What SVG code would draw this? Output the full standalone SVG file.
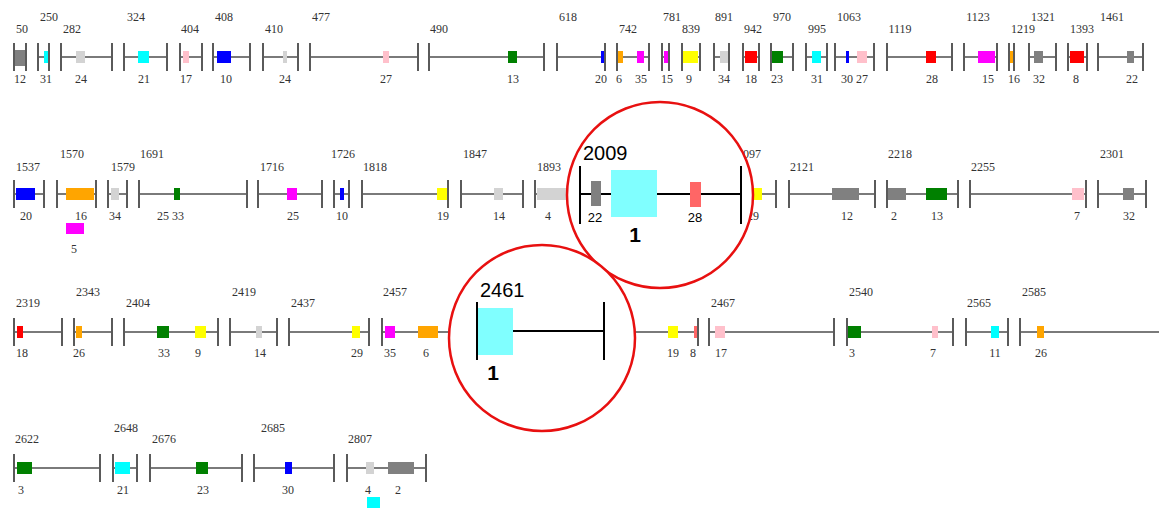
<svg xmlns="http://www.w3.org/2000/svg" width="1159" height="517" viewBox="0 0 1159 517">
<style>
  .ln{stroke:#7a7a7a;stroke-width:2}
  .tk{stroke:#5a5a5a;stroke-width:2}
  .t{font-family:"Liberation Serif",serif;font-size:12px;fill:#333;text-anchor:middle}
  .gy{fill:#808080}.lg{fill:#d3d3d3}.cy{fill:#00ffff}.pk{fill:#ffc0cb}.bl{fill:#0000ff}
  .gr{fill:#008000}.rd{fill:#ff0000}.or{fill:#ffa500}.mg{fill:#ff00ff}.ye{fill:#ffff00}
  .ring{fill:#fff;stroke:#e81010;stroke-width:2.5}
  .zl{stroke:#000;stroke-width:2}
  .za{font-family:"Liberation Sans",Arial,sans-serif;fill:#000}
</style>
<rect width="1159" height="517" fill="#fff"/>

<!-- row 1: axis y=57 -->
<g id="seg-50"><line class="ln" x1="14" y1="57" x2="26" y2="57"/><rect class="gy" x="14" y="50" width="12" height="16"/><line class="tk" x1="14" y1="43" x2="14" y2="71"/><line class="tk" x1="26" y1="43" x2="26" y2="71"/><text class="t" x="22" y="33">50</text><text class="t" x="20" y="83">12</text></g>
<g id="seg-250"><line class="ln" x1="38" y1="57" x2="49" y2="57"/><rect class="cy" x="44" y="51" width="4" height="12"/><line class="tk" x1="38" y1="43" x2="38" y2="71"/><line class="tk" x1="49" y1="43" x2="49" y2="71"/><text class="t" x="49" y="21">250</text><text class="t" x="46" y="83">31</text></g>
<g id="seg-282"><line class="ln" x1="61" y1="57" x2="112" y2="57"/><rect class="lg" x="76" y="51" width="9" height="12"/><line class="tk" x1="61" y1="43" x2="61" y2="71"/><line class="tk" x1="112" y1="43" x2="112" y2="71"/><text class="t" x="72" y="33">282</text><text class="t" x="81" y="83">24</text></g>
<g id="seg-324"><line class="ln" x1="124" y1="57" x2="167" y2="57"/><rect class="cy" x="138" y="51" width="11" height="12"/><line class="tk" x1="124" y1="43" x2="124" y2="71"/><line class="tk" x1="167" y1="43" x2="167" y2="71"/><text class="t" x="136" y="21">324</text><text class="t" x="144" y="83">21</text></g>
<g id="seg-404"><line class="ln" x1="180" y1="57" x2="202" y2="57"/><rect class="pk" x="183" y="51" width="6" height="12"/><line class="tk" x1="180" y1="43" x2="180" y2="71"/><line class="tk" x1="202" y1="43" x2="202" y2="71"/><text class="t" x="190" y="33">404</text><text class="t" x="186" y="83">17</text></g>
<g id="seg-408"><line class="ln" x1="213" y1="57" x2="250" y2="57"/><rect class="bl" x="217" y="51" width="14" height="12"/><line class="tk" x1="213" y1="43" x2="213" y2="71"/><line class="tk" x1="250" y1="43" x2="250" y2="71"/><text class="t" x="224" y="21">408</text><text class="t" x="226" y="83">10</text></g>
<g id="seg-410"><line class="ln" x1="263" y1="57" x2="298" y2="57"/><rect class="lg" x="283" y="51" width="4" height="12"/><line class="tk" x1="263" y1="43" x2="263" y2="71"/><line class="tk" x1="298" y1="43" x2="298" y2="71"/><text class="t" x="274" y="33">410</text><text class="t" x="285" y="83">24</text></g>
<g id="seg-477"><line class="ln" x1="310" y1="57" x2="418" y2="57"/><rect class="pk" x="383" y="51" width="6" height="12"/><line class="tk" x1="310" y1="43" x2="310" y2="71"/><line class="tk" x1="418" y1="43" x2="418" y2="71"/><text class="t" x="321" y="21">477</text><text class="t" x="386" y="83">27</text></g>
<g id="seg-490"><line class="ln" x1="429" y1="57" x2="544" y2="57"/><rect class="gr" x="508" y="51" width="9" height="12"/><line class="tk" x1="429" y1="43" x2="429" y2="71"/><line class="tk" x1="544" y1="43" x2="544" y2="71"/><text class="t" x="439" y="33">490</text><text class="t" x="513" y="83">13</text></g>
<g id="seg-618"><line class="ln" x1="557" y1="57" x2="605" y2="57"/><rect class="bl" x="601" y="51" width="3" height="12"/><line class="tk" x1="557" y1="43" x2="557" y2="71"/><line class="tk" x1="605" y1="43" x2="605" y2="71"/><text class="t" x="568" y="21">618</text><text class="t" x="601" y="83">20</text></g>
<g id="seg-742"><line class="ln" x1="617" y1="57" x2="649" y2="57"/><rect class="or" x="618" y="51" width="5" height="12"/><rect class="mg" x="637" y="51" width="7" height="12"/><line class="tk" x1="617" y1="43" x2="617" y2="71"/><line class="tk" x1="649" y1="43" x2="649" y2="71"/><text class="t" x="628" y="33">742</text><text class="t" x="619" y="83">6</text><text class="t" x="641" y="83">35</text></g>
<g id="seg-781"><line class="ln" x1="662" y1="57" x2="669" y2="57"/><rect class="mg" x="664" y="51" width="4" height="12"/><line class="tk" x1="662" y1="43" x2="662" y2="71"/><line class="tk" x1="669" y1="43" x2="669" y2="71"/><text class="t" x="672" y="21">781</text><text class="t" x="667" y="83">15</text></g>
<g id="seg-839"><line class="ln" x1="682" y1="57" x2="700" y2="57"/><rect class="ye" x="683" y="51" width="15" height="12"/><line class="tk" x1="682" y1="43" x2="682" y2="71"/><line class="tk" x1="700" y1="43" x2="700" y2="71"/><text class="t" x="691" y="33">839</text><text class="t" x="689" y="83">9</text></g>
<g id="seg-891"><line class="ln" x1="714" y1="57" x2="729" y2="57"/><rect class="lg" x="720" y="51" width="9" height="12"/><line class="tk" x1="714" y1="43" x2="714" y2="71"/><line class="tk" x1="729" y1="43" x2="729" y2="71"/><text class="t" x="724" y="21">891</text><text class="t" x="724" y="83">34</text></g>
<g id="seg-942"><line class="ln" x1="743" y1="57" x2="759" y2="57"/><rect class="rd" x="745" y="51" width="12" height="12"/><line class="tk" x1="743" y1="43" x2="743" y2="71"/><line class="tk" x1="759" y1="43" x2="759" y2="71"/><text class="t" x="753" y="33">942</text><text class="t" x="751" y="83">18</text></g>
<g id="seg-970"><line class="ln" x1="771" y1="57" x2="793" y2="57"/><rect class="gr" x="772" y="51" width="11" height="12"/><line class="tk" x1="771" y1="43" x2="771" y2="71"/><line class="tk" x1="793" y1="43" x2="793" y2="71"/><text class="t" x="782" y="21">970</text><text class="t" x="777" y="83">23</text></g>
<g id="seg-995"><line class="ln" x1="806" y1="57" x2="827" y2="57"/><rect class="cy" x="812" y="51" width="9" height="12"/><line class="tk" x1="806" y1="43" x2="806" y2="71"/><line class="tk" x1="827" y1="43" x2="827" y2="71"/><text class="t" x="817" y="33">995</text><text class="t" x="817" y="83">31</text></g>
<g id="seg-1063"><line class="ln" x1="835" y1="57" x2="874" y2="57"/><rect class="bl" x="846" y="51" width="3" height="12"/><rect class="pk" x="857" y="51" width="10" height="12"/><line class="tk" x1="835" y1="43" x2="835" y2="71"/><line class="tk" x1="874" y1="43" x2="874" y2="71"/><text class="t" x="849" y="21">1063</text><text class="t" x="847" y="83">30</text><text class="t" x="862" y="83">27</text></g>
<g id="seg-1119"><line class="ln" x1="887" y1="57" x2="952" y2="57"/><rect class="rd" x="926" y="51" width="10" height="12"/><line class="tk" x1="887" y1="43" x2="887" y2="71"/><line class="tk" x1="952" y1="43" x2="952" y2="71"/><text class="t" x="900" y="33">1119</text><text class="t" x="932" y="83">28</text></g>
<g id="seg-1123"><line class="ln" x1="964" y1="57" x2="997" y2="57"/><rect class="mg" x="978" y="51" width="17" height="12"/><line class="tk" x1="964" y1="43" x2="964" y2="71"/><line class="tk" x1="997" y1="43" x2="997" y2="71"/><text class="t" x="978" y="21">1123</text><text class="t" x="988" y="83">15</text></g>
<g id="seg-1219"><line class="ln" x1="1009" y1="57" x2="1014" y2="57"/><rect class="or" x="1010" y="51" width="5" height="12"/><line class="tk" x1="1009" y1="43" x2="1009" y2="71"/><line class="tk" x1="1014" y1="43" x2="1014" y2="71"/><text class="t" x="1023" y="33">1219</text><text class="t" x="1014" y="83">16</text></g>
<g id="seg-1321"><line class="ln" x1="1029" y1="57" x2="1056" y2="57"/><rect class="gy" x="1034" y="51" width="9" height="12"/><line class="tk" x1="1029" y1="43" x2="1029" y2="71"/><line class="tk" x1="1056" y1="43" x2="1056" y2="71"/><text class="t" x="1043" y="21">1321</text><text class="t" x="1039" y="83">32</text></g>
<g id="seg-1393"><line class="ln" x1="1068" y1="57" x2="1087" y2="57"/><rect class="rd" x="1070" y="51" width="14" height="12"/><line class="tk" x1="1068" y1="43" x2="1068" y2="71"/><line class="tk" x1="1087" y1="43" x2="1087" y2="71"/><text class="t" x="1082" y="33">1393</text><text class="t" x="1076" y="83">8</text></g>
<g id="seg-1461"><line class="ln" x1="1098" y1="57" x2="1143" y2="57"/><rect class="gy" x="1127" y="51" width="7" height="12"/><line class="tk" x1="1098" y1="43" x2="1098" y2="71"/><line class="tk" x1="1143" y1="43" x2="1143" y2="71"/><text class="t" x="1112" y="21">1461</text><text class="t" x="1132" y="83">22</text></g>

<!-- row 2: axis y=194 -->
<g id="seg-1537"><line class="ln" x1="14" y1="194" x2="44" y2="194"/><rect class="bl" x="16" y="188" width="19" height="12"/><line class="tk" x1="14" y1="180" x2="14" y2="208"/><line class="tk" x1="44" y1="180" x2="44" y2="208"/><text class="t" x="28" y="171">1537</text><text class="t" x="26" y="220">20</text></g>
<g id="seg-1570"><line class="ln" x1="57" y1="194" x2="96" y2="194"/><rect class="or" x="66" y="188" width="28" height="12"/><rect class="mg" x="66" y="223" width="18" height="11"/><line class="tk" x1="57" y1="180" x2="57" y2="208"/><line class="tk" x1="96" y1="180" x2="96" y2="208"/><text class="t" x="72" y="158">1570</text><text class="t" x="81" y="220">16</text><text class="t" x="74" y="253">5</text></g>
<g id="seg-1579"><line class="ln" x1="108" y1="194" x2="127" y2="194"/><rect class="lg" x="111" y="188" width="8" height="12"/><line class="tk" x1="108" y1="180" x2="108" y2="208"/><line class="tk" x1="127" y1="180" x2="127" y2="208"/><text class="t" x="123" y="171">1579</text><text class="t" x="115" y="220">34</text></g>
<g id="seg-1691"><line class="ln" x1="139" y1="194" x2="247" y2="194"/><rect class="gr" x="174" y="188" width="6" height="12"/><line class="tk" x1="139" y1="180" x2="139" y2="208"/><line class="tk" x1="247" y1="180" x2="247" y2="208"/><text class="t" x="152" y="158">1691</text><text class="t" x="163" y="220">25</text><text class="t" x="178" y="220">33</text></g>
<g id="seg-1716"><line class="ln" x1="258" y1="194" x2="322" y2="194"/><rect class="mg" x="287" y="188" width="10" height="12"/><line class="tk" x1="258" y1="180" x2="258" y2="208"/><line class="tk" x1="322" y1="180" x2="322" y2="208"/><text class="t" x="272" y="171">1716</text><text class="t" x="293" y="220">25</text></g>
<g id="seg-1726"><line class="ln" x1="334" y1="194" x2="349" y2="194"/><rect class="bl" x="340" y="188" width="4" height="12"/><line class="tk" x1="334" y1="180" x2="334" y2="208"/><line class="tk" x1="349" y1="180" x2="349" y2="208"/><text class="t" x="343" y="158">1726</text><text class="t" x="342" y="220">10</text></g>
<g id="seg-1818"><line class="ln" x1="362" y1="194" x2="448" y2="194"/><rect class="ye" x="437" y="188" width="11" height="12"/><line class="tk" x1="362" y1="180" x2="362" y2="208"/><line class="tk" x1="448" y1="180" x2="448" y2="208"/><text class="t" x="375" y="171">1818</text><text class="t" x="443" y="220">19</text></g>
<g id="seg-1847"><line class="ln" x1="461" y1="194" x2="523" y2="194"/><rect class="lg" x="494" y="188" width="9" height="12"/><line class="tk" x1="461" y1="180" x2="461" y2="208"/><line class="tk" x1="523" y1="180" x2="523" y2="208"/><text class="t" x="475" y="158">1847</text><text class="t" x="499" y="220">14</text></g>
<g id="seg-1893"><line class="ln" x1="535" y1="194" x2="620" y2="194"/><rect class="lg" x="537" y="188" width="40" height="12"/><line class="tk" x1="535" y1="180" x2="535" y2="208"/><text class="t" x="549" y="171">1893</text><text class="t" x="548" y="220">4</text></g>
<g id="seg-2097"><line class="ln" x1="700" y1="194" x2="776" y2="194"/><rect class="ye" x="745" y="188" width="17" height="12"/><line class="tk" x1="776" y1="180" x2="776" y2="208"/><text class="t" x="749" y="158">2097</text><text class="t" x="753" y="220">29</text></g>
<g id="seg-2121"><line class="ln" x1="789" y1="194" x2="875" y2="194"/><rect class="gy" x="832" y="188" width="27" height="12"/><line class="tk" x1="789" y1="180" x2="789" y2="208"/><line class="tk" x1="875" y1="180" x2="875" y2="208"/><text class="t" x="802" y="171">2121</text><text class="t" x="847" y="220">12</text></g>
<g id="seg-2218"><line class="ln" x1="887" y1="194" x2="958" y2="194"/><rect class="gy" x="888" y="188" width="18" height="12"/><rect class="gr" x="926" y="188" width="21" height="12"/><line class="tk" x1="887" y1="180" x2="887" y2="208"/><line class="tk" x1="958" y1="180" x2="958" y2="208"/><text class="t" x="900" y="158">2218</text><text class="t" x="894" y="220">2</text><text class="t" x="937" y="220">13</text></g>
<g id="seg-2255"><line class="ln" x1="970" y1="194" x2="1086" y2="194"/><rect class="pk" x="1072" y="188" width="12" height="12"/><line class="tk" x1="970" y1="180" x2="970" y2="208"/><line class="tk" x1="1086" y1="180" x2="1086" y2="208"/><text class="t" x="983" y="171">2255</text><text class="t" x="1077" y="220">7</text></g>
<g id="seg-2301"><line class="ln" x1="1098" y1="194" x2="1146" y2="194"/><rect class="gy" x="1123" y="188" width="11" height="12"/><line class="tk" x1="1098" y1="180" x2="1098" y2="208"/><line class="tk" x1="1146" y1="180" x2="1146" y2="208"/><text class="t" x="1112" y="158">2301</text><text class="t" x="1129" y="220">32</text></g>

<!-- magnified segment 2009 -->
<g id="zoom-2009">
  <circle class="ring" cx="660" cy="195" r="93"/>
  <line class="zl" x1="580" y1="194" x2="741" y2="194"/>
  <line class="zl" x1="580" y1="166" x2="580" y2="224"/>
  <line class="zl" x1="741" y1="166" x2="741" y2="224"/>
  <rect x="591" y="181" width="10" height="25" fill="#808080"/>
  <rect x="611" y="170" width="46" height="47" fill="#80ffff"/>
  <rect x="690" y="182" width="11" height="25" fill="#ff6666"/>
  <text class="za" x="583" y="160" font-size="20">2009</text>
  <text class="za" x="595" y="222" font-size="13" text-anchor="middle">22</text>
  <text class="za" x="695" y="222" font-size="13" text-anchor="middle">28</text>
  <text class="za" x="635" y="242" font-size="21" font-weight="bold" text-anchor="middle">1</text>
</g>

<!-- row 3: axis y=332 -->
<g id="seg-2319"><line class="ln" x1="14" y1="332" x2="62" y2="332"/><rect class="rd" x="17" y="326" width="6" height="12"/><line class="tk" x1="14" y1="318" x2="14" y2="346"/><line class="tk" x1="62" y1="318" x2="62" y2="346"/><text class="t" x="28" y="307">2319</text><text class="t" x="22" y="357">18</text></g>
<g id="seg-2343"><line class="ln" x1="74" y1="332" x2="112" y2="332"/><rect class="or" x="76" y="326" width="6" height="12"/><line class="tk" x1="74" y1="318" x2="74" y2="346"/><line class="tk" x1="112" y1="318" x2="112" y2="346"/><text class="t" x="88" y="296">2343</text><text class="t" x="79" y="357">26</text></g>
<g id="seg-2404"><line class="ln" x1="124" y1="332" x2="218" y2="332"/><rect class="gr" x="157" y="326" width="12" height="12"/><rect class="ye" x="195" y="326" width="11" height="12"/><line class="tk" x1="124" y1="318" x2="124" y2="346"/><line class="tk" x1="218" y1="318" x2="218" y2="346"/><text class="t" x="138" y="307">2404</text><text class="t" x="164" y="357">33</text><text class="t" x="198" y="357">9</text></g>
<g id="seg-2419"><line class="ln" x1="230" y1="332" x2="277" y2="332"/><rect class="lg" x="256" y="326" width="6" height="12"/><line class="tk" x1="230" y1="318" x2="230" y2="346"/><line class="tk" x1="277" y1="318" x2="277" y2="346"/><text class="t" x="244" y="296">2419</text><text class="t" x="260" y="357">14</text></g>
<g id="seg-2437"><line class="ln" x1="289" y1="332" x2="369" y2="332"/><rect class="ye" x="352" y="326" width="8" height="12"/><line class="tk" x1="289" y1="318" x2="289" y2="346"/><line class="tk" x1="369" y1="318" x2="369" y2="346"/><text class="t" x="303" y="307">2437</text><text class="t" x="357" y="357">29</text></g>
<g id="seg-2457"><line class="ln" x1="382" y1="332" x2="698" y2="332"/><rect class="mg" x="385" y="326" width="10" height="12"/><rect class="or" x="418" y="326" width="20" height="12"/><rect class="ye" x="668" y="326" width="10" height="12"/><rect x="694" y="326" width="3" height="12" fill="#ff6666"/><line class="tk" x1="382" y1="318" x2="382" y2="346"/><line class="tk" x1="698" y1="318" x2="698" y2="346"/><text class="t" x="395" y="296">2457</text><text class="t" x="390" y="357">35</text><text class="t" x="426" y="357">6</text><text class="t" x="673" y="357">19</text><text class="t" x="693" y="357">8</text></g>
<g id="seg-2467"><line class="ln" x1="709" y1="332" x2="834" y2="332"/><rect class="pk" x="715" y="326" width="10" height="12"/><line class="tk" x1="709" y1="318" x2="709" y2="346"/><line class="tk" x1="834" y1="318" x2="834" y2="346"/><text class="t" x="723" y="307">2467</text><text class="t" x="721" y="357">17</text></g>
<g id="seg-2540"><line class="ln" x1="847" y1="332" x2="953" y2="332"/><rect class="gr" x="848" y="326" width="13" height="12"/><rect class="pk" x="932" y="326" width="6" height="12"/><line class="tk" x1="847" y1="318" x2="847" y2="346"/><line class="tk" x1="953" y1="318" x2="953" y2="346"/><text class="t" x="861" y="296">2540</text><text class="t" x="852" y="357">3</text><text class="t" x="933" y="357">7</text></g>
<g id="seg-2565"><line class="ln" x1="966" y1="332" x2="1008" y2="332"/><rect class="cy" x="991" y="326" width="8" height="12"/><line class="tk" x1="966" y1="318" x2="966" y2="346"/><line class="tk" x1="1008" y1="318" x2="1008" y2="346"/><text class="t" x="979" y="307">2565</text><text class="t" x="995" y="357">11</text></g>
<g id="seg-2585"><line class="ln" x1="1020" y1="332" x2="1160" y2="332"/><rect class="or" x="1037" y="326" width="7" height="12"/><line class="tk" x1="1020" y1="318" x2="1020" y2="346"/><text class="t" x="1034" y="296">2585</text><text class="t" x="1041" y="357">26</text></g>

<!-- magnified segment 2461 -->
<g id="zoom-2461">
  <circle class="ring" cx="542" cy="338" r="93"/>
  <line class="zl" x1="477" y1="331" x2="604" y2="331"/>
  <line class="zl" x1="477" y1="302" x2="477" y2="360"/>
  <line class="zl" x1="604" y1="302" x2="604" y2="360"/>
  <rect x="478" y="308" width="35" height="47" fill="#80ffff"/>
  <text class="za" x="480" y="297" font-size="20">2461</text>
  <text class="za" x="493" y="380" font-size="21" font-weight="bold" text-anchor="middle">1</text>
</g>

<!-- row 4: axis y=468 -->
<g id="seg-2622"><line class="ln" x1="14" y1="468" x2="100" y2="468"/><rect class="gr" x="17" y="462" width="15" height="12"/><line class="tk" x1="14" y1="454" x2="14" y2="482"/><line class="tk" x1="100" y1="454" x2="100" y2="482"/><text class="t" x="27" y="443">2622</text><text class="t" x="21" y="494">3</text></g>
<g id="seg-2648"><line class="ln" x1="113" y1="468" x2="137" y2="468"/><rect class="cy" x="115" y="462" width="15" height="12"/><line class="tk" x1="113" y1="454" x2="113" y2="482"/><line class="tk" x1="137" y1="454" x2="137" y2="482"/><text class="t" x="126" y="432">2648</text><text class="t" x="123" y="494">21</text></g>
<g id="seg-2676"><line class="ln" x1="150" y1="468" x2="242" y2="468"/><rect class="gr" x="196" y="462" width="12" height="12"/><line class="tk" x1="150" y1="454" x2="150" y2="482"/><line class="tk" x1="242" y1="454" x2="242" y2="482"/><text class="t" x="164" y="443">2676</text><text class="t" x="203" y="494">23</text></g>
<g id="seg-2685"><line class="ln" x1="254" y1="468" x2="334" y2="468"/><rect class="bl" x="285" y="462" width="7" height="12"/><line class="tk" x1="254" y1="454" x2="254" y2="482"/><line class="tk" x1="334" y1="454" x2="334" y2="482"/><text class="t" x="273" y="432">2685</text><text class="t" x="288" y="494">30</text></g>
<g id="seg-2807"><line class="ln" x1="347" y1="468" x2="426" y2="468"/><rect class="lg" x="366" y="462" width="8" height="12"/><rect class="gy" x="388" y="462" width="26" height="12"/><rect class="cy" x="367" y="497" width="13" height="11"/><line class="tk" x1="347" y1="454" x2="347" y2="482"/><line class="tk" x1="426" y1="454" x2="426" y2="482"/><text class="t" x="360" y="443">2807</text><text class="t" x="368" y="494">4</text><text class="t" x="398" y="494">2</text><text class="t" x="373" y="525">11</text></g>
</svg>
